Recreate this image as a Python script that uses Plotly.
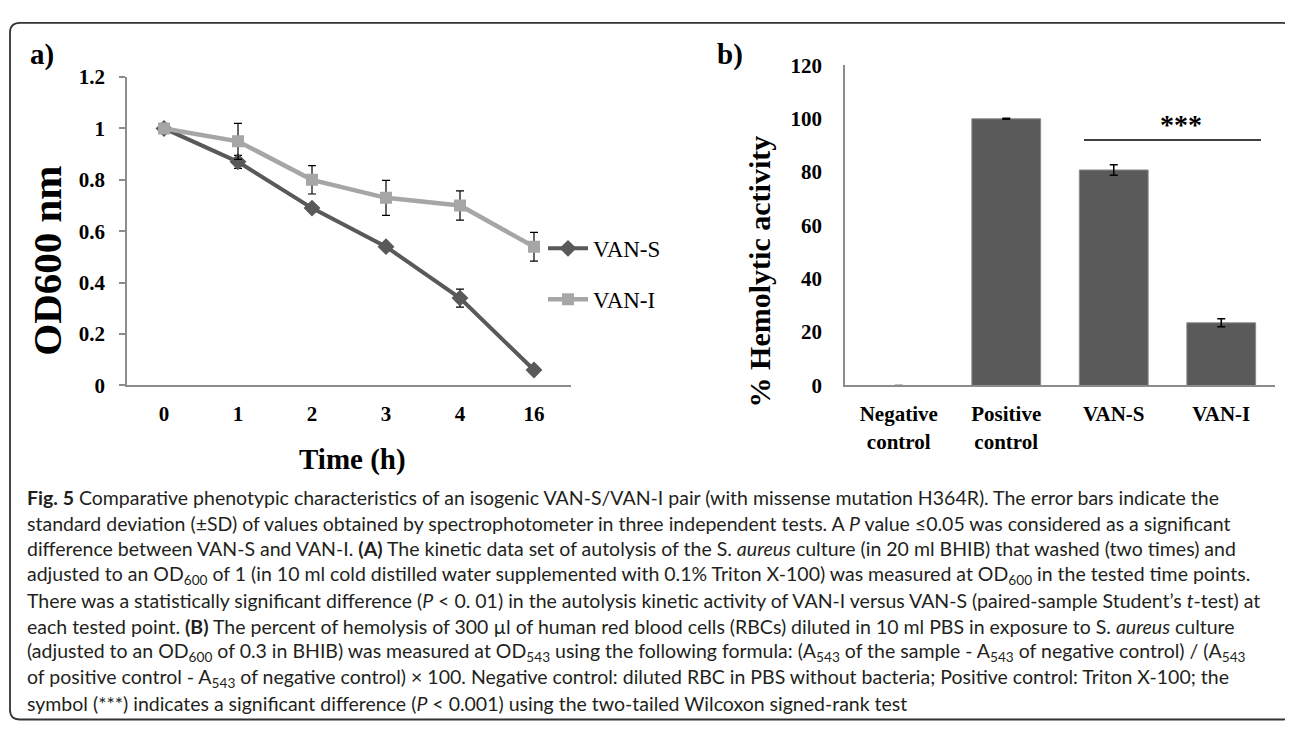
import plotly.graph_objects as go

# ---------------- data ----------------
time_labels = ["0", "1", "2", "3", "4", "16"]
van_s = [1.0, 0.87, 0.69, 0.54, 0.34, 0.06]
van_s_sd = [None, 0.025, 0.008, 0.008, 0.035, 0.008]
van_i = [1.0, 0.95, 0.80, 0.73, 0.70, 0.54]
van_i_sd = [None, 0.07, 0.055, 0.068, 0.057, 0.056]

hemo_cats = ["Negative<br>control", "Positive<br>control", "VAN-S", "VAN-I"]
hemo_vals = [0.0, 100.0, 80.8, 23.5]
hemo_sd = [None, 0.2, 2.0, 1.5]

od_ticks = [0, 0.2, 0.4, 0.6, 0.8, 1.0, 1.2]
od_ticktext = ["0", "0.2", "0.4", "0.6", "0.8", "1", "1.2"]
hemo_ticks = [0, 20, 40, 60, 80, 100, 120]

caption_lines = [
    "<b>Fig. 5</b> Comparative phenotypic characteristics of an isogenic VAN-S/VAN-I pair (with missense mutation H364R). The error bars indicate the",
    "standard deviation (±SD) of values obtained by spectrophotometer in three independent tests. A <i>P</i> value ≤0.05 was considered as a significant",
    "difference between VAN-S and VAN-I. <b>(A)</b> The kinetic data set of autolysis of the S. <i>aureus</i> culture (in 20 ml BHIB) that washed (two times) and",
    "adjusted to an OD<sub>600</sub> of 1 (in 10 ml cold distilled water supplemented with 0.1% Triton X-100) was measured at OD<sub>600</sub> in the tested time points.",
    "There was a statistically significant difference (<i>P</i> &lt; 0. 01) in the autolysis kinetic activity of VAN-I versus VAN-S (paired-sample Student’s <i>t</i>-test) at",
    "each tested point. <b>(B)</b> The percent of hemolysis of 300 µl of human red blood cells (RBCs) diluted in 10 ml PBS in exposure to S. <i>aureus</i> culture",
    "(adjusted to an OD<sub>600</sub> of 0.3 in BHIB) was measured at OD<sub>543</sub> using the following formula: (A<sub>543</sub> of the sample - A<sub>543</sub> of negative control) / (A<sub>543</sub>",
    "of positive control - A<sub>543</sub> of negative control) × 100. Negative control: diluted RBC in PBS without bacteria; Positive control: Triton X-100; the",
    "symbol (***) indicates a significant difference (<i>P</i> &lt; 0.001) using the two-tailed Wilcoxon signed-rank test",
]

# ---------------- layout helpers ----------------
OFF = 8                      # page body margin
FW, FH = 1293 - OFF, 732 - OFF
def px(x):
    return (x - OFF) / FW
def py(y):
    return 1 - (y - OFF) / FH

SERIF = "Liberation Serif"
SANS = "Lato"
AX_COLOR = "#8c8c8c"

fig = go.Figure()

# Panel a
fig.add_trace(go.Scatter(
    x=time_labels, y=van_s, name="VAN-S", mode="lines+markers",
    line=dict(color="#595959", width=4),
    marker=dict(symbol="diamond", size=13, color="#595959"),
    error_y=dict(type="data", array=van_s_sd, color="black", thickness=1.2, width=4),
    xaxis="x", yaxis="y", legendgroup="s",
))
fig.add_trace(go.Scatter(
    x=time_labels, y=van_i, name="VAN-I", mode="lines+markers",
    line=dict(color="#a6a6a6", width=4.5),
    marker=dict(symbol="square", size=12, color="#a6a6a6"),
    error_y=dict(type="data", array=van_i_sd, color="black", thickness=1.2, width=4),
    xaxis="x", yaxis="y", legendgroup="i",
))

# Panel b
fig.add_trace(go.Bar(
    x=hemo_cats, y=hemo_vals, showlegend=False,
    marker=dict(color="#5a5a5a", line=dict(color="#8a8a8a", width=[0, 1, 1, 1])),
    error_y=dict(type="data", array=hemo_sd, color="black", thickness=1.5, width=4),
    xaxis="x2", yaxis="y2",
))

tickfont = dict(family=SERIF, size=21, color="black", weight="bold")

fig.update_layout(
    width=FW, height=FH,
    margin=dict(l=0, r=0, t=0, b=0),
    paper_bgcolor="white", plot_bgcolor="white",
    bargap=0.36,
    xaxis=dict(domain=[px(127), px(571)], type="category", range=[-0.5, 5.5],
               showline=True, linecolor=AX_COLOR, linewidth=1.5, showgrid=False,
               zeroline=False, ticks="", tickfont=tickfont, ticklabelstandoff=9,
               anchor="y"),
    yaxis=dict(domain=[py(386), py(67)], range=[0, 1.2], tickvals=od_ticks,
               ticktext=od_ticktext, showline=True, linecolor=AX_COLOR,
               linewidth=1.5, showgrid=False, zeroline=False, ticks="outside",
               ticklen=6, tickcolor=AX_COLOR, tickwidth=1.5, tickfont=tickfont,
               ticklabelstandoff=10, anchor="x"),
    xaxis2=dict(domain=[px(845), px(1275)], type="category", range=[-0.5, 3.5],
                showline=True, linecolor=AX_COLOR, linewidth=1.5, showgrid=False,
                zeroline=False, ticks="", tickfont=tickfont, ticklabelstandoff=9,
                anchor="y2"),
    yaxis2=dict(domain=[py(386), py(55)], range=[0, 120], tickvals=hemo_ticks,
                showline=True, linecolor=AX_COLOR, linewidth=1.5, showgrid=False,
                zeroline=False, ticks="", tickfont=tickfont, ticklabelstandoff=17,
                anchor="x2"),
    showlegend=True,
    legend=dict(x=px(543), y=py(222), xanchor="left", yanchor="top",
                font=dict(family=SERIF, size=23, color="black"),
                tracegroupgap=18, bgcolor="rgba(0,0,0,0)", itemwidth=40),
)

annotations = [
    dict(x=px(42), y=py(44), text="<b>a)</b>", font=dict(family=SERIF, size=29, color="black")),
    dict(x=px(730), y=py(44), text="<b>b)</b>", font=dict(family=SERIF, size=29, color="black")),
    dict(x=px(47), y=py(257), text="<b>OD600 nm</b>", textangle=-90,
         font=dict(family=SERIF, size=41, color="black")),
    dict(x=px(352), y=py(463), text="<b>Time (h)</b>", font=dict(family=SERIF, size=29, color="black")),
    dict(x=px(759), y=py(268), text="<b>% Hemolytic activity</b>", textangle=-90,
         font=dict(family=SERIF, size=30, color="black")),
    dict(x=px(1181), y=py(116), text="<b>***</b>", font=dict(family=SERIF, size=28, color="black")),
]
line_y = [502, 528.5, 555, 582, 608.5, 635, 662, 688.5, 715]
for t, yy in zip(caption_lines, line_y):
    annotations.append(dict(x=px(25), y=py(yy), text=t, xanchor="left",
                            font=dict(family=SANS, size=19.5, color="#231f20")))
for a in annotations:
    a.setdefault("xref", "paper")
    a.setdefault("yref", "paper")
    a.setdefault("showarrow", False)
    a.setdefault("xanchor", "center")
    a.setdefault("yanchor", "middle")
fig.update_layout(annotations=annotations)

# significance line
shapes = [dict(type="line", xref="paper", yref="paper", x0=px(1084), x1=px(1261),
               y0=py(132), y1=py(132), line=dict(color="black", width=1.5))]
# rounded frame (right and bottom edges sit at the picture border)
x0, x1, y0, y1, r = 10, 1292.5, 11, 731.5, 10
path = (f"M {px(x0 + r)},{py(y0)} L {px(x1 - r)},{py(y0)} "
        f"Q {px(x1)},{py(y0)} {px(x1)},{py(y0 + r)} "
        f"L {px(x1)},{py(y1 - r)} Q {px(x1)},{py(y1)} {px(x1 - r)},{py(y1)} "
        f"L {px(x0 + r)},{py(y1)} Q {px(x0)},{py(y1)} {px(x0)},{py(y1 - r)} "
        f"L {px(x0)},{py(y0 + r)} Q {px(x0)},{py(y0)} {px(x0 + r)},{py(y0)} Z")
shapes.append(dict(type="path", xref="paper", yref="paper", path=path,
                   line=dict(color="#333333", width=1.8)))
fig.update_layout(shapes=shapes)

fig.write_html("out.html")
